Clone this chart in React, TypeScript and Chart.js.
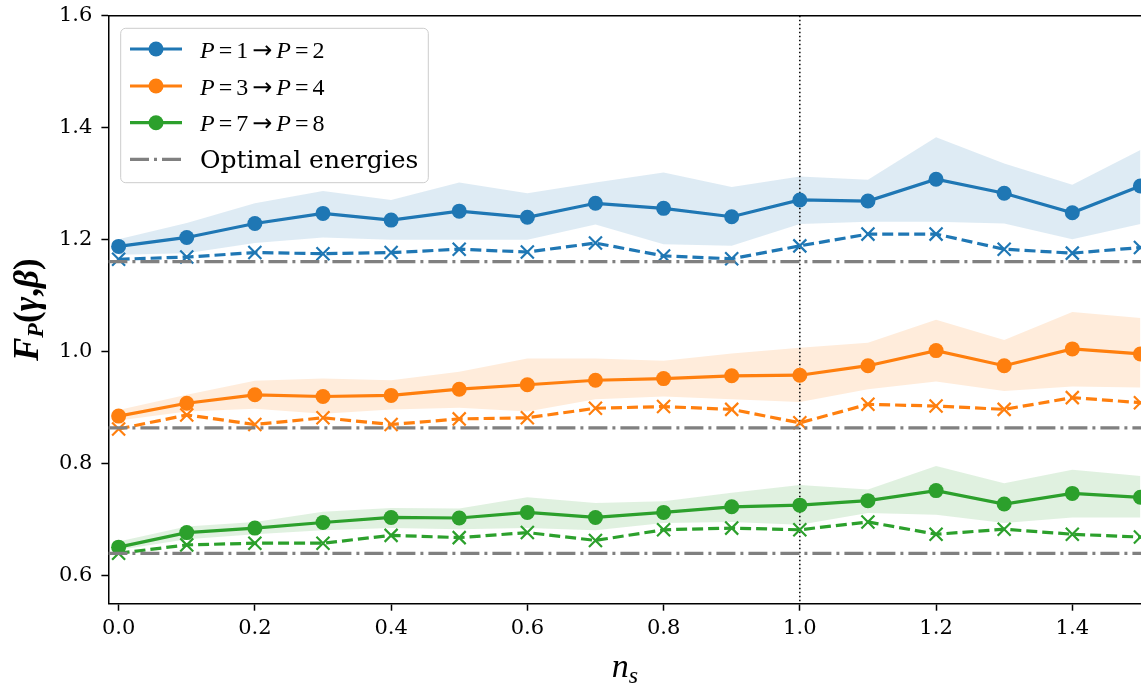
import React, { useEffect, useRef } from "react";
import { Chart, registerables } from "chart.js";

Chart.register(...registerables);

// ---------------- data ----------------
const NS = [0.0, 0.1, 0.2, 0.3, 0.4, 0.5, 0.6, 0.7, 0.8, 0.9, 1.0, 1.1, 1.2, 1.3, 1.4, 1.5];

const BLUE_MEAN = [1.188, 1.204, 1.229, 1.247, 1.235, 1.251, 1.240, 1.265, 1.256, 1.241, 1.271, 1.269, 1.308, 1.283, 1.248, 1.296];
const BLUE_UPPER = [1.201, 1.230, 1.265, 1.287, 1.271, 1.302, 1.283, 1.302, 1.320, 1.294, 1.313, 1.307, 1.383, 1.336, 1.298, 1.360];
const BLUE_LOWER = [1.173, 1.176, 1.194, 1.204, 1.200, 1.200, 1.200, 1.227, 1.192, 1.189, 1.228, 1.232, 1.232, 1.229, 1.201, 1.228];
const BLUE_BEST = [1.165, 1.169, 1.177, 1.175, 1.177, 1.183, 1.178, 1.194, 1.171, 1.166, 1.189, 1.210, 1.210, 1.183, 1.176, 1.186];

const ORANGE_MEAN = [0.885, 0.908, 0.923, 0.920, 0.922, 0.933, 0.941, 0.949, 0.952, 0.957, 0.958, 0.975, 1.002, 0.975, 1.005, 0.996];
const ORANGE_UPPER = [0.896, 0.923, 0.948, 0.952, 0.949, 0.964, 0.988, 0.988, 0.984, 0.997, 1.007, 1.016, 1.057, 1.021, 1.071, 1.060];
const ORANGE_LOWER = [0.877, 0.893, 0.898, 0.889, 0.897, 0.900, 0.893, 0.915, 0.920, 0.915, 0.910, 0.933, 0.947, 0.930, 0.938, 0.936];
const ORANGE_BEST = [0.862, 0.887, 0.870, 0.882, 0.870, 0.880, 0.882, 0.899, 0.902, 0.897, 0.873, 0.906, 0.903, 0.897, 0.918, 0.909];

const GREEN_MEAN = [0.651, 0.677, 0.685, 0.695, 0.704, 0.703, 0.713, 0.704, 0.713, 0.723, 0.726, 0.734, 0.752, 0.728, 0.747, 0.740];
const GREEN_UPPER = [0.661, 0.688, 0.696, 0.714, 0.721, 0.720, 0.740, 0.730, 0.733, 0.748, 0.762, 0.754, 0.796, 0.765, 0.789, 0.778];
const GREEN_LOWER = [0.646, 0.665, 0.674, 0.681, 0.685, 0.683, 0.685, 0.681, 0.694, 0.696, 0.691, 0.712, 0.709, 0.694, 0.704, 0.704];
const GREEN_BEST = [0.640, 0.655, 0.658, 0.658, 0.672, 0.668, 0.677, 0.663, 0.682, 0.685, 0.682, 0.696, 0.674, 0.683, 0.674, 0.669];

const OPTIMAL = [1.161, 0.864, 0.640];
const V_LINE = 1.0;

const SERIES_LABELS = ["P=1\u2192P=2", "P=3\u2192P=4", "P=7\u2192P=8"];
const OPTIMAL_LABEL = "Optimal energies";
const X_TITLE = ["n", "s"];
const Y_TITLE = ["F", "P", "(", "\u03B3", ",", "\u03B2", ")"];

const X_TICKS = [0.0, 0.2, 0.4, 0.6, 0.8, 1.0, 1.2, 1.4];
const Y_TICKS = [0.6, 0.8, 1.0, 1.2, 1.4, 1.6];
const X_MIN = -0.015;
const X_MAX = 1.512;
const Y_MIN = 0.55;
const Y_MAX = 1.6;

// ---------------- styles ----------------
const COLORS = ["#1f77b4", "#ff7f0e", "#2ca02c"];
const BAND_COLORS = ["rgba(31,119,180,0.15)", "rgba(255,127,14,0.15)", "rgba(44,160,44,0.15)"];
const GRAY = "#808080";
const SERIF = '"DejaVu Serif", serif';
const MATH = '"Liberation Serif", "DejaVu Serif", serif';
const ARROW_FONT = '"DejaVu Sans", sans-serif';

const pts = (ys: number[]) => NS.map((x, i) => ({ x, y: ys[i] }));

const GROUPS = [
  { mean: BLUE_MEAN, upper: BLUE_UPPER, lower: BLUE_LOWER, best: BLUE_BEST },
  { mean: ORANGE_MEAN, upper: ORANGE_UPPER, lower: ORANGE_LOWER, best: ORANGE_BEST },
  { mean: GREEN_MEAN, upper: GREEN_UPPER, lower: GREEN_LOWER, best: GREEN_BEST },
];

function buildDatasets() {
  const lines: any[] = [];
  const bands: any[] = [];
  GROUPS.forEach((g, k) => {
    const c = COLORS[k];
    lines.push({
      data: pts(g.mean),
      borderColor: c,
      borderWidth: 3.2,
      pointStyle: "circle",
      pointRadius: 7.5,
      pointBackgroundColor: c,
      pointBorderWidth: 0,
      fill: false,
      tension: 0,
    });
    lines.push({
      data: pts(g.best),
      borderColor: c,
      borderWidth: 3.2,
      borderDash: [11, 5],
      pointStyle: "crossRot",
      pointRadius: 9.2,
      pointBorderColor: c,
      pointBackgroundColor: "transparent",
      pointBorderWidth: 2.2,
      fill: false,
      tension: 0,
    });
  });
  GROUPS.forEach((g, k) => {
    bands.push({
      data: pts(g.lower),
      borderColor: "transparent",
      borderWidth: 0,
      pointRadius: 0,
      fill: false,
    });
    bands.push({
      data: pts(g.upper),
      borderColor: "transparent",
      borderWidth: 0,
      pointRadius: 0,
      backgroundColor: BAND_COLORS[k],
      fill: "-1",
    });
  });
  return [...lines, ...bands];
}

function drawMathLabel(ctx: CanvasRenderingContext2D, label: string, x: number, y: number, size: number) {
  let cx = x;
  for (const ch of label) {
    const isLetter = /[A-Za-z]/.test(ch);
    const isArrow = ch === "\u2192";
    const isRel = ch === "=" || isArrow;
    if (isArrow) ctx.font = `${size}px ${ARROW_FONT}`;
    else ctx.font = `${isLetter ? "italic " : ""}${size}px ${MATH}`;
    if (isRel) cx += 4;
    ctx.fillText(ch, cx, y);
    cx += ctx.measureText(ch).width;
    if (isRel) cx += 4;
  }
}

const decorPlugin = {
  id: "decor",
  beforeDatasetsDraw(chart: any) {
    const { ctx, chartArea, scales } = chart;
    const px = scales.x.getPixelForValue(V_LINE);
    ctx.save();
    ctx.strokeStyle = "#000";
    ctx.lineWidth = 1.5;
    ctx.setLineDash([1.5, 2.5]);
    ctx.beginPath();
    ctx.moveTo(px, chartArea.top);
    ctx.lineTo(px, chartArea.bottom);
    ctx.stroke();
    ctx.restore();
  },
  afterDatasetsDraw(chart: any) {
    const { ctx, chartArea, scales } = chart;
    ctx.save();
    ctx.beginPath();
    ctx.rect(chartArea.left, chartArea.top, chartArea.right - chartArea.left, chartArea.bottom - chartArea.top);
    ctx.clip();
    ctx.strokeStyle = GRAY;
    ctx.lineWidth = 3.2;
    ctx.setLineDash([19, 5, 3, 5]);
    OPTIMAL.forEach((v) => {
      const py = scales.y.getPixelForValue(v);
      ctx.beginPath();
      ctx.moveTo(chartArea.left, py);
      ctx.lineTo(chartArea.right, py);
      ctx.stroke();
    });
    ctx.restore();
    // top & right spines
    ctx.save();
    ctx.strokeStyle = "#000";
    ctx.lineWidth = 1.5;
    ctx.beginPath();
    ctx.moveTo(chartArea.left, chartArea.top);
    ctx.lineTo(chartArea.right, chartArea.top);
    ctx.lineTo(chartArea.right, chartArea.bottom);
    ctx.stroke();
    ctx.restore();
  },
  afterDraw(chart: any) {
    const { ctx, chartArea } = chart;
    // ---- legend ----
    ctx.save();
    const bx = 120.7, by = 28.3, bw = 307.6, bh = 154.4, r = 5;
    ctx.beginPath();
    ctx.moveTo(bx + r, by);
    ctx.arcTo(bx + bw, by, bx + bw, by + bh, r);
    ctx.arcTo(bx + bw, by + bh, bx, by + bh, r);
    ctx.arcTo(bx, by + bh, bx, by, r);
    ctx.arcTo(bx, by, bx + bw, by, r);
    ctx.closePath();
    ctx.fillStyle = "rgba(255,255,255,0.8)";
    ctx.fill();
    ctx.strokeStyle = "#cccccc";
    ctx.lineWidth = 1;
    ctx.stroke();

    const rowY = [49, 86, 122.7, 159.3];
    const hx0 = 130, hx1 = 182, tx = 200;
    ctx.fillStyle = "#000";
    ctx.textBaseline = "alphabetic";
    ctx.textAlign = "left";
    SERIES_LABELS.forEach((lab, k) => {
      const y = rowY[k];
      ctx.strokeStyle = COLORS[k];
      ctx.lineWidth = 3.2;
      ctx.setLineDash([]);
      ctx.beginPath();
      ctx.moveTo(hx0, y);
      ctx.lineTo(hx1, y);
      ctx.stroke();
      ctx.fillStyle = COLORS[k];
      ctx.beginPath();
      ctx.arc((hx0 + hx1) / 2, y, 7.5, 0, Math.PI * 2);
      ctx.fill();
      ctx.fillStyle = "#000";
      drawMathLabel(ctx, lab, tx, y + 8.5, 24);
    });
    const yo = rowY[3];
    ctx.strokeStyle = GRAY;
    ctx.lineWidth = 3.2;
    ctx.setLineDash([19, 5, 3, 5]);
    ctx.beginPath();
    ctx.moveTo(hx0, yo);
    ctx.lineTo(hx1, yo);
    ctx.stroke();
    ctx.setLineDash([]);
    ctx.fillStyle = "#000";
    ctx.font = `25px ${SERIF}`;
    ctx.fillText(OPTIMAL_LABEL, tx, yo + 9);
    ctx.restore();

    // ---- x title ----
    ctx.save();
    ctx.fillStyle = "#000";
    ctx.textBaseline = "alphabetic";
    ctx.textAlign = "left";
    const f1 = `italic 34px ${MATH}`;
    const f2 = `italic 24px ${MATH}`;
    ctx.font = f1;
    const w1 = ctx.measureText(X_TITLE[0]).width;
    ctx.font = f2;
    const w2 = ctx.measureText(X_TITLE[1]).width;
    const cxm = 625;
    const sx = cxm - (w1 + w2) / 2;
    ctx.font = f1;
    ctx.fillText(X_TITLE[0], sx, 677);
    ctx.font = f2;
    ctx.fillText(X_TITLE[1], sx + w1, 683);
    ctx.restore();

    // ---- y title ----
    ctx.save();
    ctx.fillStyle = "#000";
    ctx.textBaseline = "alphabetic";
    ctx.textAlign = "left";
    const cy = (chartArea.top + chartArea.bottom) / 2;
    ctx.translate(38, cy);
    ctx.rotate(-Math.PI / 2);
    const segs = [
      { t: Y_TITLE[0], f: `italic bold 35px ${MATH}`, dy: 0 },
      { t: Y_TITLE[1], f: `italic bold 24px ${MATH}`, dy: 5 },
      { t: Y_TITLE[2], f: `bold 35px ${MATH}`, dy: 0 },
      { t: Y_TITLE[3], f: `italic bold 35px ${MATH}`, dy: 0 },
      { t: Y_TITLE[4], f: `bold 35px ${MATH}`, dy: 0 },
      { t: Y_TITLE[5], f: `italic bold 35px ${MATH}`, dy: 0 },
      { t: Y_TITLE[6], f: `bold 35px ${MATH}`, dy: 0 },
    ];
    let total = 0;
    segs.forEach((s) => {
      ctx.font = s.f;
      total += ctx.measureText(s.t).width;
    });
    let cx = -total / 2;
    segs.forEach((s) => {
      ctx.font = s.f;
      ctx.fillText(s.t, cx, s.dy);
      cx += ctx.measureText(s.t).width;
    });
    ctx.restore();
  },
};

export default function App() {
  const ref = useRef<HTMLCanvasElement | null>(null);
  useEffect(() => {
    if (!ref.current) return;
    const chart = new Chart(ref.current, {
      type: "line",
      data: { datasets: buildDatasets() },
      plugins: [decorPlugin],
      options: {
        animation: false,
        responsive: false,
        devicePixelRatio: 1,
        events: [],
        layout: { padding: { left: 0, top: 15.7, right: 8, bottom: 0 } },
        plugins: {
          legend: { display: false },
          tooltip: { enabled: false },
          filler: { drawTime: "beforeDatasetsDraw" },
        },
        scales: {
          x: {
            type: "linear",
            min: X_MIN,
            max: X_MAX,
            afterBuildTicks: (s: any) => {
              s.ticks = X_TICKS.map((v) => ({ value: v }));
            },
            afterFit: (s: any) => {
              s.height = 81.3;
              s.paddingLeft = 0;
              s.paddingRight = 0;
            },
            ticks: {
              callback: (v: any) => Number(v).toFixed(1),
              font: { family: SERIF, size: 21 },
              color: "#000",
              padding: 5,
              maxRotation: 0,
              autoSkip: false,
            },
            grid: {
              drawOnChartArea: false,
              drawTicks: true,
              tickLength: 7,
              tickWidth: 1.5,
              tickColor: "#000",
            },
            border: { display: true, color: "#000", width: 1.5 },
          },
          y: {
            type: "linear",
            min: Y_MIN,
            max: Y_MAX,
            afterBuildTicks: (s: any) => {
              s.ticks = Y_TICKS.map((v) => ({ value: v }));
            },
            afterFit: (s: any) => {
              s.width = 108.4;
              s.paddingTop = 0;
              s.paddingBottom = 0;
            },
            ticks: {
              callback: (v: any) => Number(v).toFixed(1),
              font: { family: SERIF, size: 21 },
              color: "#000",
              padding: 9,
              autoSkip: false,
            },
            grid: {
              drawOnChartArea: false,
              drawTicks: true,
              tickLength: 7,
              tickWidth: 1.5,
              tickColor: "#000",
            },
            border: { display: true, color: "#000", width: 1.5 },
          },
        },
      } as any,
    });
    return () => chart.destroy();
  }, []);

  return (
    <div
      style={{
        position: "absolute",
        left: 0,
        top: 0,
        width: 1141,
        height: 685,
        overflow: "hidden",
        background: "#fff",
      }}
    >
      <canvas ref={ref} width={1160} height={685} style={{ display: "block" }} />
    </div>
  );
}
